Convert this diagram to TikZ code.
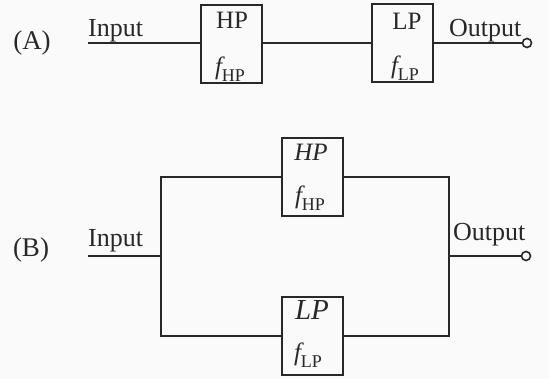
\documentclass[tikz,border=0pt]{standalone}
\usepackage{fontspec}
\setmainfont{Liberation Serif}
\definecolor{ink}{RGB}{40,40,40}
\definecolor{paper}{RGB}{250,250,250}
\newcommand{\fsub}[1]{{\itshape f}\raisebox{-0.28em}{\fontsize{18}{18}\selectfont #1}}
\tikzset{
  wire/.style={draw=ink, line width=2pt},
  fbox/.style={draw=ink, line width=2pt, fill=paper, minimum width=61pt, minimum height=78pt, inner sep=0pt},
  lbl/.style={text=ink, inner sep=0pt, font=\fontsize{25}{29}\selectfont},
  side/.style={text=ink, inner sep=0pt, font=\fontsize{27}{31}\selectfont},
  term/.style={circle, draw=ink, line width=1.6pt, fill=paper, minimum size=9pt, inner sep=0pt},
}
\begin{document}
\begin{tikzpicture}[x=1pt, y=-1pt]
\useasboundingbox[fill=paper] (0,0) rectangle (549,379);

% ---------- (A) ----------
\node[side] (labA) at (32,43) {(A)};
\node[lbl, anchor=base west, font=\fontsize{26}{30}\selectfont] (txtInA) at (88,37) {Input};
\coordinate (inA) at (88,43);
\node[fbox] (hpA) at (231,44) {};
\node[fbox] (lpA) at (402.5,43) {};
\node[term] (outA) at (527,43) {};
\node[lbl, anchor=base west, font=\fontsize{26}{30}\selectfont] (txtOutA) at (449,37) {Output};
\node[lbl] (hpAt) at (232,20.5) {HP};
\node[lbl] (hpAf) at (230,69) {\fsub{HP}};
\node[lbl] (lpAt) at (407,21.5) {LP};
\node[lbl] (lpAf) at (405,68) {\fsub{LP}};
\draw[wire] (inA) -- (inA -| hpA.west);
\draw[wire] (hpA.east |- inA) -- (lpA);
\draw[wire] (lpA) -- (outA);

% ---------- (B) ----------
\node[side] (labB) at (31,250) {(B)};
\node[lbl, anchor=base west, font=\fontsize{26}{30}\selectfont] (txtInB) at (88,247) {Input};
\coordinate (inB) at (88,256);
\coordinate (jl) at (161,256);
\coordinate (jr) at (449,256);
\node[fbox] (hpB) at (312,177) {};
\node[fbox] (lpB) at (312,336) {};
\node[term] (outB) at (526,256) {};
\node[lbl, anchor=base west, font=\fontsize{26}{30}\selectfont] (txtOutB) at (453,241) {Output};
\node[lbl] (hpBt) at (311,152) {\itshape HP};
\node[lbl] (hpBf) at (310,198) {\fsub{HP}};
\node[lbl, font=\fontsize{29}{33}\selectfont] (lpBt) at (312,310) {\itshape LP};
\node[lbl] (lpBf) at (308,355) {\fsub{LP}};
\draw[wire] (inB) -- (jl);
\draw[wire] (jl) |- (hpB);
\draw[wire] (jl) |- (lpB);
\draw[wire] (hpB) -| (jr);
\draw[wire] (lpB) -| (jr);
\draw[wire] (jr) -- (outB);
\end{tikzpicture}
\end{document}
